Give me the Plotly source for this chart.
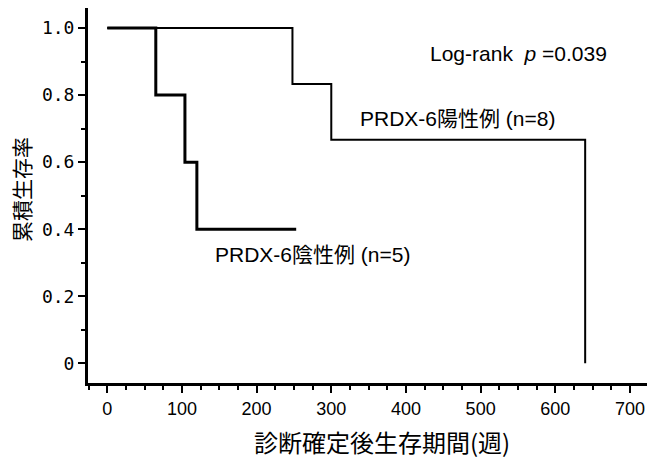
import plotly.graph_objects as go

# Kaplan-Meier data (weeks, cumulative survival)
pos_weeks = [0, 248, 300, 640]
pos_surv = [1.0, 0.833, 0.667, 0.0]
neg_weeks = [0, 65, 104, 120, 253]
neg_surv = [1.0, 0.8, 0.6, 0.4, 0.4]

x_ticks = [0, 100, 200, 300, 400, 500, 600, 700]
y_ticks = [0, 0.2, 0.4, 0.6, 0.8, 1.0]
y_tick_text = ["0", "0.2", "0.4", "0.6", "0.8", "1.0"]

label_pos = "PRDX-6陽性例 (n=8)"
label_neg = "PRDX-6陰性例 (n=5)"
label_p = "Log-rank  <i>p</i> =0.039"
x_title = "診断確定後生存期間(週)"
y_title = "累積生存率"

FONT = "Liberation Sans, Arial, Noto Sans CJK JP"
CJK = "Noto Sans CJK JP, Liberation Sans"

fig = go.Figure()
fig.add_trace(go.Scatter(x=pos_weeks, y=pos_surv, mode="lines",
                         line=dict(shape="hv", color="black", width=2),
                         showlegend=False, hoverinfo="skip"))
fig.add_trace(go.Scatter(x=neg_weeks, y=neg_surv, mode="lines",
                         line=dict(shape="hv", color="black", width=3),
                         showlegend=False, hoverinfo="skip"))

fig.add_annotation(x=429.5, y=0.925, text=label_p, showarrow=False,
                   xanchor="left", yanchor="middle",
                   font=dict(family=FONT, size=21, color="black"))
fig.add_annotation(x=335.7, y=0.731, text=label_pos, showarrow=False,
                   xanchor="left", yanchor="middle",
                   font=dict(family=FONT, size=21, color="black"))
fig.add_annotation(x=141.6, y=0.326, text=label_neg, showarrow=False,
                   xanchor="left", yanchor="middle",
                   font=dict(family=FONT, size=21, color="black"))

# axis titles (paper coords; plot area spans 559 x 375 px)
fig.add_annotation(xref="paper", yref="paper", x=0.526, y=-0.155, text=x_title,
                   showarrow=False, xanchor="center", yanchor="middle",
                   font=dict(family=CJK, size=24, color="#000000"))
fig.add_annotation(xref="paper", yref="paper", x=-0.12, y=0.517, text=y_title,
                   showarrow=False, xanchor="center", yanchor="middle", textangle=-90,
                   font=dict(family=CJK, size=21, color="#000000"))

fig.update_layout(
    width=647, height=459,
    margin=dict(l=88, r=0, t=8, b=76, autoexpand=False),
    paper_bgcolor="white", plot_bgcolor="white",
    font=dict(color="black"),
    xaxis=dict(
        range=[-25.8, 722.8], tickvals=x_ticks, automargin=False,
        showgrid=False, zeroline=False,
        showline=True, linecolor="black", linewidth=3,
        ticks="outside", ticklen=7, tickwidth=2, tickcolor="black",
        minor=dict(dtick=25, ticks="outside", ticklen=4, tickwidth=2, tickcolor="black"),
        tickfont=dict(family=FONT, size=18, color="black"),
    ),
    yaxis=dict(
        range=[-0.0587, 1.0597], tickvals=y_ticks, ticktext=y_tick_text, automargin=False,
        showgrid=False, zeroline=False,
        showline=True, linecolor="black", linewidth=3,
        ticks="outside", ticklen=7, tickwidth=2, tickcolor="black",
        minor=dict(dtick=0.1, ticks="outside", ticklen=4, tickwidth=2, tickcolor="black"),
        tickfont=dict(family="DejaVu Sans Mono", size=18, color="black"),
    ),
)

# remove the default 8 px page margin so the figure fills the window exactly
fig.write_html("out.html",
               config={"displayModeBar": False},
               post_script="document.body.style.margin='0';"
                           "document.documentElement.style.overflow='hidden';")
